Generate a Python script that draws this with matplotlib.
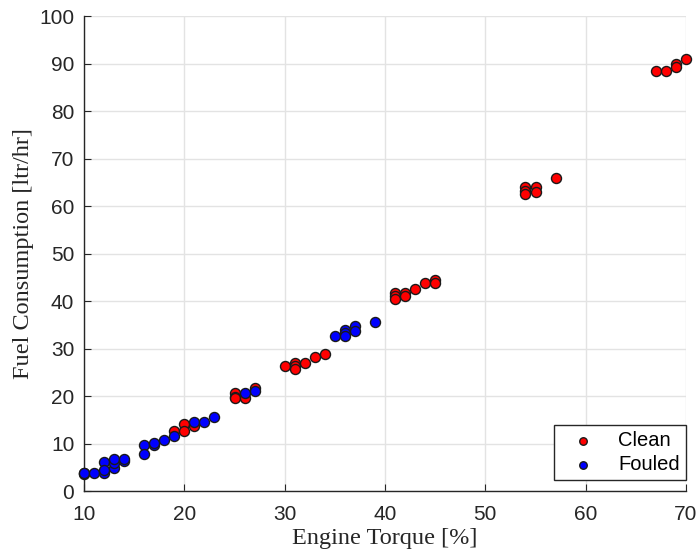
import matplotlib
matplotlib.use("Agg")
import matplotlib.pyplot as plt

# Clean (red) data
clean_x = [10, 10, 19, 20, 20, 21, 25, 25, 25, 26, 27,
           30, 31, 31, 31, 32, 33, 34,
           41, 41, 41, 42, 42, 43, 44, 45, 45,
           54, 54, 54, 55, 55, 57,
           67, 68, 69, 69, 70]
clean_y = [3.5, 3.8, 12.6, 14.1, 12.6, 13.8, 20.6, 19.9, 19.6, 19.5, 21.6,
           26.3, 26.9, 26.3, 25.8, 26.9, 28.3, 28.8,
           41.6, 41.1, 40.4, 41.6, 41.1, 42.5, 43.9, 44.4, 43.9,
           64.1, 63.2, 62.5, 64.1, 63.0, 66.0,
           88.4, 88.4, 89.9, 89.3, 90.9]

# Fouled (blue) data
fouled_x = [10, 11, 12, 12, 12, 13, 13, 13, 14, 14,
            16, 16, 17, 17, 18, 19, 21, 22, 23,
            26, 27,
            35, 36, 36, 36, 37, 37, 39]
fouled_y = [3.85, 3.85, 3.85, 6.2, 4.5, 4.8, 5.8, 6.8, 6.3, 6.8,
            9.8, 7.8, 9.8, 10.2, 10.7, 11.6, 14.6, 14.6, 15.6,
            20.6, 21.1,
            32.7, 33.9, 33.2, 32.6, 34.7, 33.7, 35.6]

xlabel = "Engine Torque [%]"
ylabel = "Fuel Consumption [ltr/hr]"

fig = plt.figure(figsize=(7.0, 5.58), dpi=100)
ax = fig.add_axes([0.12, 0.12, 0.86, 0.851])

ax.scatter(clean_x, clean_y, s=52, c="#ff0000", edgecolors="#1a1a1a",
           linewidths=1.0, label="Clean", zorder=3, clip_on=False)
ax.scatter(fouled_x, fouled_y, s=52, c="#0000ff", edgecolors="#1a1a1a",
           linewidths=1.0, label="Fouled", zorder=3, clip_on=False)

ax.set_xlim(10, 70)
ax.set_ylim(0, 100)
ax.set_xticks(range(10, 71, 10))
ax.set_yticks(range(0, 101, 10))

ax.grid(True, color="#e3e3e3", linewidth=1.0)
ax.set_axisbelow(True)
for s in ["top", "right"]:
    ax.spines[s].set_visible(False)
for s in ["left", "bottom"]:
    ax.spines[s].set_color("#262626")
    ax.spines[s].set_linewidth(1.0)

ax.tick_params(direction="in", length=5, colors="#262626", labelsize=15)
ax.tick_params(axis="x", pad=10)
ax.tick_params(axis="y", pad=7)
for lab in ax.get_xticklabels() + ax.get_yticklabels():
    lab.set_fontfamily("Liberation Sans")

ax.set_xlabel(xlabel, family="Liberation Serif", fontsize=17.5, color="#262626", labelpad=3)
ax.set_ylabel(ylabel, family="Liberation Serif", fontsize=17.5, color="#262626", labelpad=4)

leg = ax.legend(loc="lower right", prop={"family": "Liberation Sans", "size": 14.5},
                frameon=True, fancybox=False, edgecolor="#262626", framealpha=1,
                handletextpad=0.6, borderpad=0.3, markerscale=0.75, labelspacing=0.25,
                handlelength=2.3, borderaxespad=0, bbox_to_anchor=(1.0, 0.023))
leg.get_frame().set_linewidth(1.0)

fig.savefig("out.png", dpi=100)
